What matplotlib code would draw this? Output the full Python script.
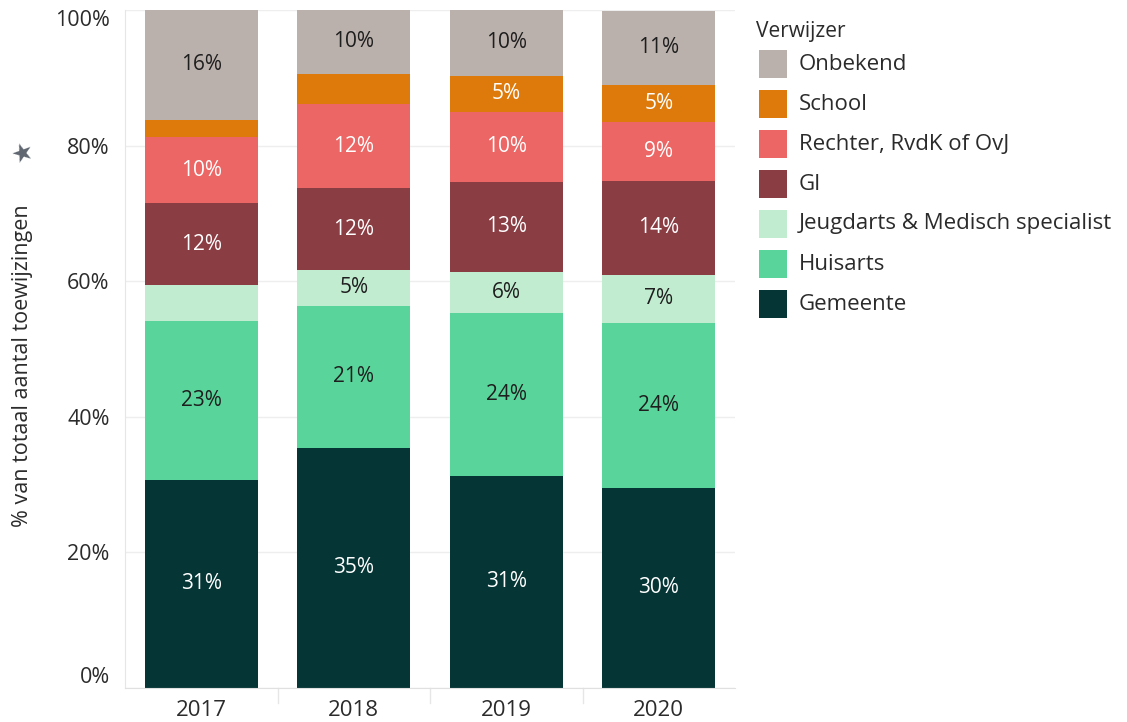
import matplotlib
matplotlib.use("Agg")
import matplotlib.pyplot as plt
import numpy as np
from matplotlib.patches import Rectangle

plt.rcParams['font.family'] = ['Open Sans', 'DejaVu Sans']

# data (percent of total per year)
years = ['2017', '2018', '2019', '2020']
categories = ['Gemeente', 'Huisarts', 'Jeugdarts & Medisch specialist', 'GI',
              'Rechter, RvdK of OvJ', 'School', 'Onbekend']
gemeente = [30.7, 35.4, 31.3, 29.5]
huisarts = [23.4, 21.0, 24.0, 24.4]
jeugdarts = [5.3, 5.2, 6.1, 7.0]
gi = [12.1, 12.1, 13.3, 13.9]
rechter = [9.7, 12.4, 10.3, 8.7]
school = [2.6, 4.4, 5.3, 5.4]
onbekend = [16.2, 9.6, 9.7, 11.0]
series = [gemeente, huisarts, jeugdarts, gi, rechter, school, onbekend]
yticks = [0, 20, 40, 60, 80, 100]

colors = ['#053535', '#59d59c', '#c2ecd0', '#8b3d44', '#eb6664', '#de7a0b', '#bab0ac']
label_colors = ['white', '#1e1e1e', '#1e1e1e', 'white', 'white', 'white', '#1e1e1e']
# labels Tableau left out because the segment was too small
hidden = {(0, 2), (0, 5), (1, 5)}

fig = plt.figure(figsize=(11.27, 7.22), dpi=100)
ax = fig.add_axes([125 / 1127, 34 / 722, 610 / 1127, 678 / 722])

x = np.arange(len(years))
bottom = np.zeros(len(years))
for k, vals in enumerate(series):
    vals = np.array(vals)
    ax.bar(x, vals, bottom=bottom, width=0.74, color=colors[k], zorder=2)
    for i in range(len(years)):
        if (i, k) in hidden:
            continue
        ax.text(x[i], bottom[i] + vals[i] / 2, f'{round(vals[i]):.0f}%',
                ha='center', va='center', fontsize=15, color=label_colors[k], zorder=3)
    bottom += vals

ax.set_xlim(-0.5, 3.5)
ax.set_ylim(0, 100)
ax.set_yticks(yticks)
ax.set_yticklabels([f'{t}%' for t in yticks])
ax.set_xticks(x)
ax.set_xticklabels(years)
ax.tick_params(axis='both', length=0, colors='#2b2b2b')
ax.tick_params(axis='y', pad=11, labelsize=15.5)
ax.tick_params(axis='x', pad=9, labelsize=16)
# Tableau keeps the end labels inside the axis range
ylabels = ax.get_yticklabels()
ylabels[0].set_va('bottom')
ylabels[-1].set_va('top')
ax.grid(axis='y', color='#eeeeee', linewidth=1, zorder=0)
for s in ['top', 'right']:
    ax.spines[s].set_visible(False)
ax.spines['left'].set_color('#e6e6e6')
ax.spines['bottom'].set_color('#e0e0e0')

# header dividers between the year columns
for xd in [0.5, 1.5, 2.5]:
    ax.plot([xd, xd], [0, -2.2], color='#e6e6e6', lw=1, clip_on=False)

fig.text(23 / 1127, 1 - 366 / 722, '% van totaal aantal toewijzingen', rotation=90,
         ha='center', va='center', fontsize=15.5, color='#2b2b2b')
# pin icon
fig.text(22 / 1127, 1 - 153 / 722, '\u2605', ha='center', va='center',
         fontsize=18, color='#5f6670', family='DejaVu Sans', rotation=20)

# legend
fig.text(756 / 1127, 1 - 31 / 722, 'Verwijzer', ha='left', va='center',
         fontsize=15, color='#2b2b2b')
legend_order = list(range(len(categories)))[::-1]
for row, k in enumerate(legend_order):
    yc = 64 + row * 40
    fig.patches.append(Rectangle((759 / 1127, 1 - (yc + 14) / 722), 28 / 1127, 28 / 722,
                                 transform=fig.transFigure, facecolor=colors[k],
                                 edgecolor='none'))
    fig.text(799 / 1127, 1 - yc / 722, categories[k], ha='left', va='center',
             fontsize=16, color='#2b2b2b')

fig.savefig('out.png', dpi=100)
